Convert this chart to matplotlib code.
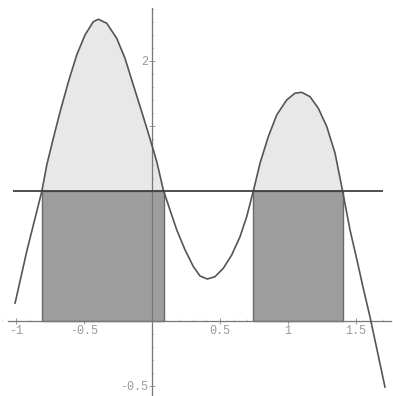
import numpy as np
import matplotlib
matplotlib.use("Agg")
import matplotlib.pyplot as plt
from matplotlib.ticker import MultipleLocator, FixedLocator

# Curve samples
curve_x = [-1.007, -0.919, -0.811, -0.774, -0.726, -0.676, -0.615, -0.554, -0.493,
           -0.432, -0.395, -0.333, -0.260, -0.199, -0.1375, -0.076, -0.027, 0.035,
           0.083, 0.132, 0.182, 0.243, 0.304, 0.353, 0.407, 0.463, 0.524, 0.586,
           0.647, 0.696, 0.745, 0.794, 0.855, 0.917, 0.990, 1.051, 1.101, 1.162,
           1.223, 1.285, 1.346, 1.395, 1.456, 1.507, 1.551, 1.603, 1.713]
curve_y = [0.138, 0.546, 0.995, 1.20, 1.405, 1.61, 1.84, 2.046, 2.20,
           2.302, 2.321, 2.29, 2.175, 2.021, 1.815, 1.61, 1.444, 1.225,
           1.008, 0.854, 0.70, 0.546, 0.418, 0.346, 0.323, 0.341, 0.405, 0.508,
           0.648, 0.802, 1.0, 1.213, 1.418, 1.585, 1.70, 1.752, 1.759, 1.725,
           1.636, 1.495, 1.29, 1.033, 0.70, 0.469, 0.262, 0.031, -0.508]
level = 1.0
x_tick_values = [-1, -0.5, 0.5, 1, 1.5]
x_tick_labels = ["-1", "-0.5", "0.5", "1", "1.5"]
y_tick_values = [-0.5, 0.5, 1, 1.5, 2]
y_tick_labels = ["-0.5", "", "", "", "2"]

x = np.array(curve_x)
y = np.array(curve_y)

# crossings of the curve with the level line
d = y - level
cross = []
for i in range(len(x) - 1):
    if d[i] == 0:
        cross.append(x[i])
    elif d[i] * d[i + 1] < 0:
        t = d[i] / (d[i] - d[i + 1])
        cross.append(x[i] + t * (x[i + 1] - x[i]))

fig = plt.figure(figsize=(3.93, 3.96), dpi=100)
ax = fig.add_axes([0, 0, 1, 1])
ax.set_xlim(-1.118, 1.772)
ax.set_ylim(-0.577, 2.469)

dark = "#9d9d9d"
light = "#e8e8e8"
# light region between level and curve
ax.fill_between(x, level, y, where=y >= level, interpolate=True,
                color=light, lw=0, zorder=1)
# dark rectangles from axis up to the level
for a, b in zip(cross[0::2], cross[1::2]):
    ax.fill_between([a, b], 0, level, facecolor=dark, edgecolor="#6a6a6a",
                    lw=1.0, zorder=2)

ax.plot(x, y, color="#555555", lw=1.2, zorder=4, solid_joinstyle="round")
ax.hlines(level, -1.02, 1.70, color="#404040", lw=1.3, zorder=4)

# axes through origin
for s in ["top", "right"]:
    ax.spines[s].set_visible(False)
ax.spines["left"].set_position(("data", 0))
ax.spines["bottom"].set_position(("data", 0))
ax.spines["left"].set_bounds(-0.577, 2.41)
ax.spines["bottom"].set_bounds(-1.06, 1.76)
for s in ["left", "bottom"]:
    ax.spines[s].set_color("#777777")
    ax.spines[s].set_linewidth(0.9)
    ax.spines[s].set_zorder(3)

ax.xaxis.set_major_locator(FixedLocator(x_tick_values))
ax.set_xticklabels(x_tick_labels)
ax.yaxis.set_major_locator(FixedLocator(y_tick_values))
ax.set_yticklabels(y_tick_labels)
ax.xaxis.set_minor_locator(MultipleLocator(0.1))
ax.yaxis.set_minor_locator(MultipleLocator(0.1))
ax.tick_params(which="major", direction="inout", length=4, width=0.6,
               color="#888888", labelsize=8.5, labelcolor="#9a9a9a", pad=1)
ax.tick_params(which="minor", direction="in", length=1.5, width=0.4,
               color="#aaaaaa")
for lab in ax.get_xticklabels() + ax.get_yticklabels():
    lab.set_family("Liberation Mono")

fig.savefig("out.png", dpi=100)
